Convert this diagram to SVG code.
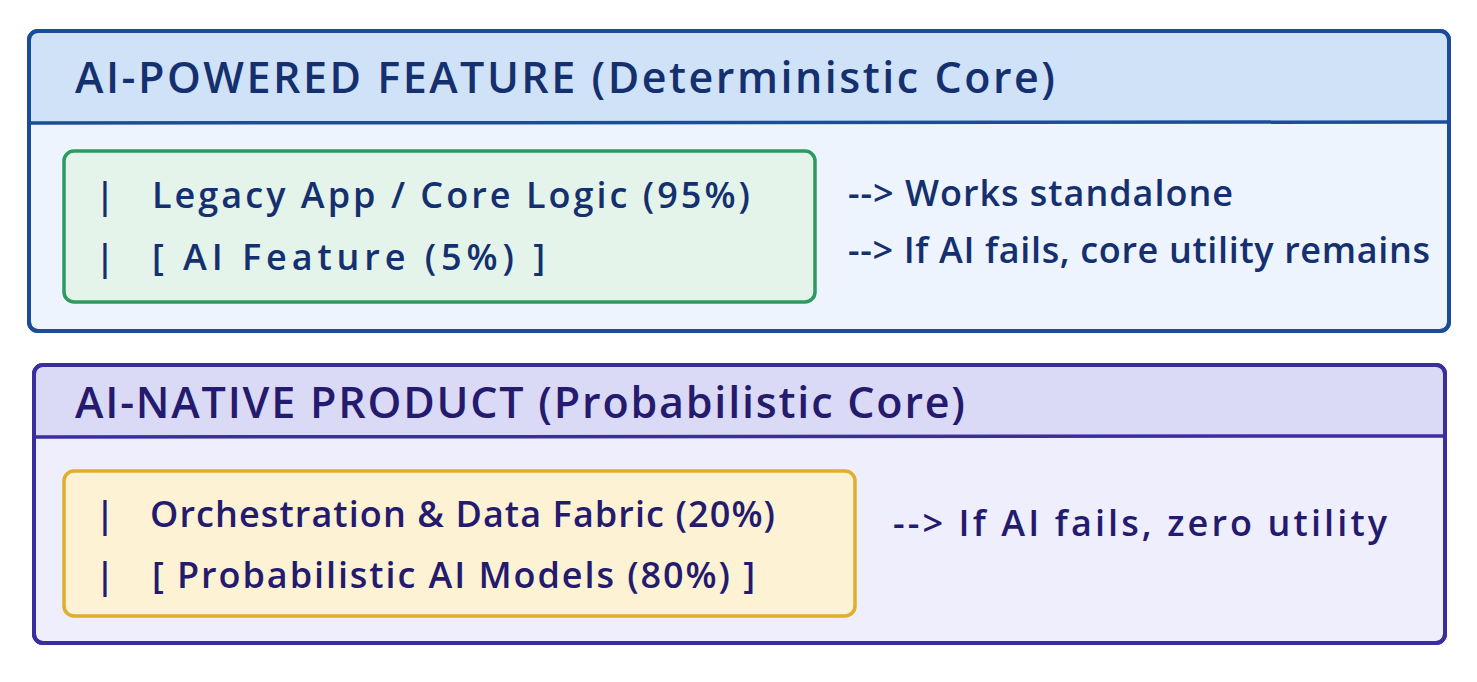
<svg xmlns="http://www.w3.org/2000/svg" width="1477" height="682" viewBox="0 0 1477 682">
<style>
.t{font-family:"Open Sans","DejaVu Sans",sans-serif;font-weight:600}
.h{font-size:43px}
.b{font-size:36px}
.blue{fill:#15306e}
.ind{fill:#241a6e}
</style>
<rect width="1477" height="682" fill="#ffffff"/>
<g id="ai-powered-feature">
<rect x="29" y="31" width="1420" height="300" rx="9" fill="#eef4fd" stroke="#1b4c9c" stroke-width="4"/>
<path d="M31 122 V40 Q31 33 38 33 H1440 Q1447 33 1447 40 V122 Z" fill="#cfe2f8"/>
<line x1="30" y1="123" x2="1448" y2="122" stroke="#1b4c9c" stroke-width="3.5"/>
<rect x="29" y="31" width="1420" height="300" rx="9" fill="none" stroke="#1b4c9c" stroke-width="4"/>
<text class="t h blue" x="75" y="93" textLength="980" lengthAdjust="spacing">AI-POWERED FEATURE (Deterministic Core)</text>
</g>
<g id="legacy-core">
<rect x="64" y="151" width="751" height="151" rx="10" fill="#e4f4ea" stroke="#2e9a60" stroke-width="3.5"/>
<text class="t b blue" x="95" y="208">|</text>
<text class="t b blue" x="152" y="208" textLength="598" lengthAdjust="spacing">Legacy App / Core Logic (95%)</text>
<text class="t b blue" x="95" y="270">|</text>
<text class="t b blue" x="152" y="270" textLength="393" lengthAdjust="spacing">[ AI Feature (5%) ]</text>
</g>
<g id="ai-native-product">
<rect x="34" y="365" width="1411" height="278" rx="9" fill="#efeefc" stroke="#3a2d9e" stroke-width="4"/>
<path d="M36 436 V374 Q36 367 43 367 H1436 Q1443 367 1443 374 V436 Z" fill="#dad9f6"/>
<line x1="35" y1="437" x2="1444" y2="436" stroke="#3a2d9e" stroke-width="3.5"/>
<rect x="34" y="365" width="1411" height="278" rx="9" fill="none" stroke="#3a2d9e" stroke-width="4"/>
<text class="t h ind" x="75" y="418" textLength="890" lengthAdjust="spacing">AI-NATIVE PRODUCT (Probabilistic Core)</text>
</g>
<g id="orchestration-core">
<rect x="64" y="471" width="791" height="145" rx="10" fill="#fdf2d4" stroke="#dfae2c" stroke-width="3.5"/>
<text class="t b ind" x="95" y="527">|</text>
<text class="t b ind" x="150" y="527" textLength="625" lengthAdjust="spacing">Orchestration &amp; Data Fabric (20%)</text>
<text class="t b ind" x="95" y="588">|</text>
<text class="t b ind" x="152" y="588" textLength="603" lengthAdjust="spacing">[ Probabilistic AI Models (80%) ]</text>
</g>
<g id="connectors">
<text class="t b blue" x="848" y="206" textLength="385" lengthAdjust="spacing">--&gt; Works standalone</text>
<text class="t b blue" x="848" y="263" textLength="582" lengthAdjust="spacing">--&gt; If AI fails, core utility remains</text>
<text class="t b ind" x="893" y="536" textLength="494" lengthAdjust="spacing">--&gt; If AI fails, zero utility</text>
</g>
</svg>
